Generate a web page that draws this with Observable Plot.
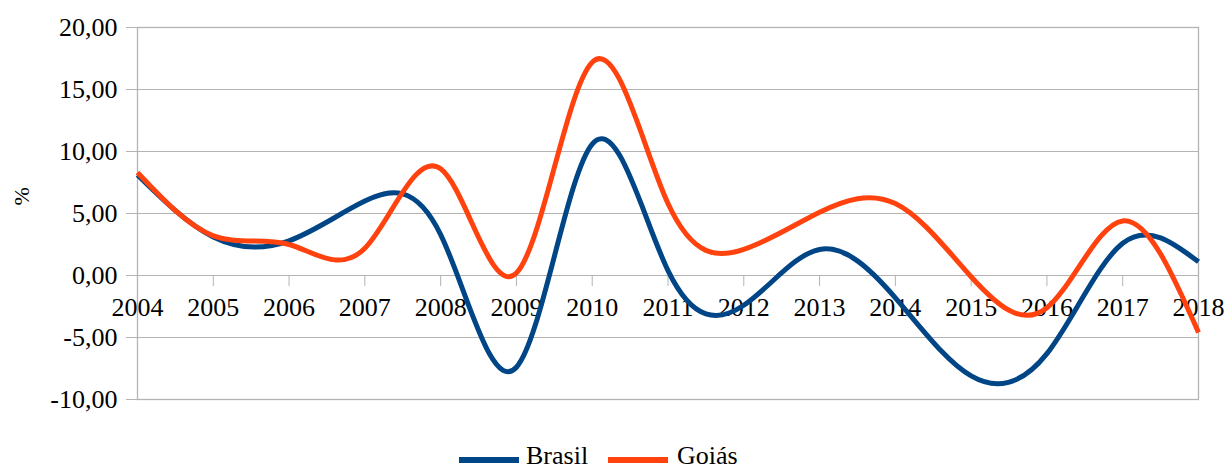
<!DOCTYPE html>
<html>
<head>
<meta charset="utf-8">
<script src="https://cdn.jsdelivr.net/npm/d3@7"></script>
<script src="https://cdn.jsdelivr.net/npm/@observablehq/plot@0.6"></script>
</head>
<body style="margin:0;padding:0;background:#fff">
<div id="wrap" style="width:1228px;height:470px;position:relative;overflow:hidden">
  <div id="chart"></div>
  <div id="legend" style="position:absolute;left:0;top:430px;width:1228px;height:40px"></div>
</div>
<script>
const years = [2004, 2005, 2006, 2007, 2008, 2009, 2010, 2011, 2012, 2013, 2014, 2015, 2016, 2017, 2018];
const brasil = [8.1, 3.1, 2.8, 6.0, 3.3, -7.4, 10.6, 0.4, -2.4, 2.1, -1.8, -8.1, -6.3, 2.6, 1.1];
const goias  = [8.3, 3.2, 2.5, 2.2, 8.6, 0.2, 17.2, 5.8, 2.1, 5.1, 5.8, -0.1, -2.6, 4.4, -4.6];
const seriesNames = ["Brasil", "Goiás"];
const seriesColors = ["#004586", "#ff420e"];
const yTicks = [-10, -5, 0, 5, 10, 15, 20];
const yDomain = [-10, 20];

const rows = [];
years.forEach((yr, i) => rows.push({year: yr, value: brasil[i], series: seriesNames[0]}));
years.forEach((yr, i) => rows.push({year: yr, value: goias[i], series: seriesNames[1]}));

const H = 430, mTop = 27, mBottom = 31;
const fmt = d => d.toFixed(2).replace(".", ",");
const grid = "#b3b3b3";
const FONT = "'Liberation Serif'";

const chart = Plot.plot({
  width: 1228,
  height: H,
  marginLeft: 137,
  marginRight: 30,
  marginTop: mTop,
  marginBottom: mBottom,
  style: {background: "#fff", color: "#000", fontFamily: FONT},
  x: {domain: [years[0], years[years.length - 1]], axis: null},
  y: {domain: yDomain, axis: null},
  color: {domain: seriesNames, range: seriesColors},
  marks: [
    Plot.ruleY(yTicks, {y: d => d, stroke: grid, strokeWidth: 1, insetLeft: -11}),
    Plot.frame({stroke: grid, strokeWidth: 1.3}),
    Plot.axisY(yTicks, {
      tickSize: 0, tickPadding: 20, tickFormat: fmt, fontSize: 26, label: null, fill: "#000"
    }),
    Plot.ruleX(years, {x: d => d, y1: 0, y2: 0, insetBottom: -11, stroke: grid, strokeWidth: 1}),
    Plot.text(years, {x: d => d, y: 0, dy: 32, text: d => String(d), fontSize: 26, fill: "#000"}),
    Plot.text(["%"], {frameAnchor: "left", dx: -116, dy: -8, rotate: -90, text: d => d, fontSize: 22, fill: "#000"}),
    Plot.line(rows, {x: "year", y: "value", z: "series", stroke: "series", curve: "natural", strokeWidth: 5, strokeLinecap: "butt"})
  ]
});
chart.style.fontFamily = FONT;
chart.querySelectorAll("text, g").forEach(t => { t.style.fontFamily = FONT; });
document.getElementById("chart").appendChild(chart);

const legend = document.getElementById("legend");
const legendPos = [{sw: 459, lbl: 526}, {sw: 608, lbl: 677}];
seriesNames.forEach((name, i) => {
  const sw = document.createElement("div");
  sw.style.position = "absolute";
  sw.style.top = "27px";
  sw.style.width = "60px";
  sw.style.height = "6px";
  sw.style.left = legendPos[i].sw + "px";
  sw.style.background = seriesColors[i];
  legend.appendChild(sw);
  const lb = document.createElement("div");
  lb.style.position = "absolute";
  lb.style.top = "13px";
  lb.style.left = legendPos[i].lbl + "px";
  lb.style.font = "26px/26px " + FONT;
  lb.style.color = "#000";
  lb.style.whiteSpace = "nowrap";
  lb.textContent = name;
  legend.appendChild(lb);
});
</script>
</body>
</html>
